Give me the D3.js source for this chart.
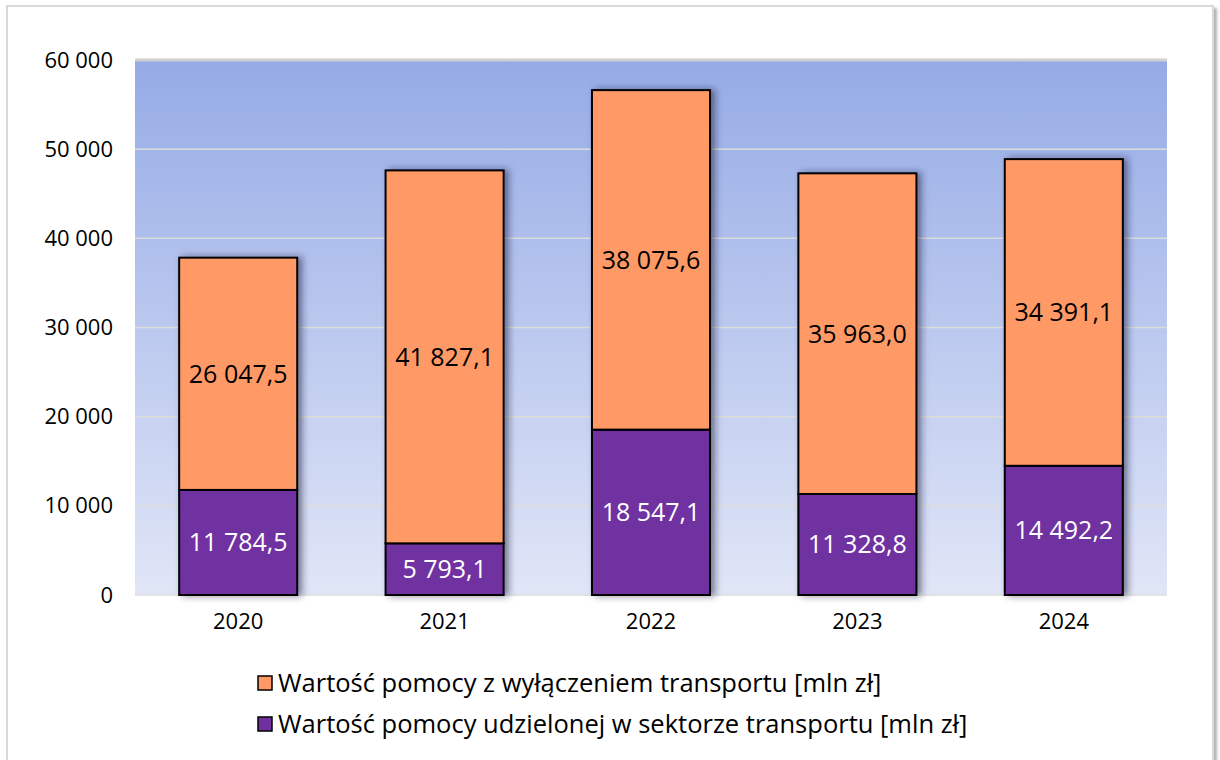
<!DOCTYPE html>
<html><head><meta charset="utf-8">
<script src="https://cdn.jsdelivr.net/npm/d3@7"></script>
<style>
html,body{margin:0;padding:0;background:#fff;}
svg{display:block;font-family:"Open Sans",sans-serif;}
</style></head>
<body><svg id="c" width="1220" height="760"></svg>
<script>
const years = ["2020","2021","2022","2023","2024"];
const transport = [11784.5, 5793.1, 18547.1, 11328.8, 14492.2];
const excluding = [26047.5, 41827.1, 38075.6, 35963.0, 34391.1];
const yTicks = [0,10000,20000,30000,40000,50000,60000];
const seriesNames = ["Wartość pomocy z wyłączeniem transportu [mln zł]","Wartość pomocy udzielonej w sektorze transportu [mln zł]"];
const seriesColors = ["#FF9966","#7030A0"];
const labelColors = ["#000","#fff"];

const loc = d3.formatLocale({decimal:",", thousands:" ", grouping:[3], currency:["",""]});
const fmt1 = loc.format(",.1f"), fmt0 = loc.format(",.0f");

const svg = d3.select("#c");
const defs = svg.append("defs");
const g1 = defs.append("linearGradient").attr("id","bg").attr("x1",0).attr("y1",0).attr("x2",0).attr("y2",1);
g1.append("stop").attr("offset","0%").attr("stop-color","#95ABE6");
g1.append("stop").attr("offset","100%").attr("stop-color","#E1E6F7");
const f = defs.append("filter").attr("id","sh").attr("x","-20%").attr("y","-20%").attr("width","140%").attr("height","140%");
f.append("feDropShadow").attr("dx",4).attr("dy",0).attr("stdDeviation",3.5).attr("flood-color","#1a2040").attr("flood-opacity",0.55);
const f2 = defs.append("filter").attr("id","fsh").attr("x","-5%").attr("y","-5%").attr("width","110%").attr("height","110%");
f2.append("feDropShadow").attr("dx",3).attr("dy",3).attr("stdDeviation",1.5).attr("flood-color","#000").attr("flood-opacity",0.3);

// outer frame
svg.append("rect").attr("x",7).attr("y",6).attr("width",1206).attr("height",770)
  .attr("fill","#fff").attr("stroke","#D9D9D9").attr("stroke-width",2).attr("filter","url(#fsh)");

const L=135, R=1167, T=60, B=595;
const x = d3.scaleBand().domain(years).range([L,R]).paddingInner(0.428).paddingOuter(0.214);
const y = d3.scaleLinear().domain([0,60000]).range([B,T]);

svg.append("rect").attr("x",L).attr("y",T).attr("width",R-L).attr("height",B-T).attr("fill","url(#bg)");
svg.append("g").selectAll("line").data(yTicks).join("line")
  .attr("x1",L).attr("x2",R).attr("y1",d=>y(d)).attr("y2",d=>y(d))
  .attr("stroke",d=> d===60000 ? "#D0D0D0" : "#DCDCDC").attr("stroke-width",d=>d===60000?3:1.5);

// y axis
const ya = svg.append("g").attr("transform",`translate(${L},0)`)
  .call(d3.axisLeft(y).tickValues(yTicks).tickFormat(fmt0).tickSize(0).tickPadding(22));
ya.select(".domain").remove();
ya.selectAll("text").attr("font-family","Open Sans").attr("font-size",22).attr("fill","#000");

// x axis
const xa = svg.append("g").attr("transform",`translate(0,${B})`)
  .call(d3.axisBottom(x).tickSize(0).tickPadding(18));
xa.select(".domain").remove();
xa.selectAll("text").attr("font-family","Open Sans").attr("font-size",22).attr("fill","#000");

const stackData = years.map((yr,i)=>({year:yr, transport:transport[i], excluding:excluding[i]}));
const stack = d3.stack().keys(["transport","excluding"])(stackData);
const keyIdx = {transport:1, excluding:0};

const bars = svg.append("g");
stackData.forEach((d,i)=>{
  const bg = bars.append("g").attr("filter","url(#sh)");
  stack.forEach(s=>{
    const seg = s[i];
    bg.append("rect").attr("x",x(d.year)).attr("width",x.bandwidth())
      .attr("y",y(seg[1])).attr("height",y(seg[0])-y(seg[1]))
      .attr("fill",seriesColors[keyIdx[s.key]]).attr("stroke","#000").attr("stroke-width",2);
  });
});
stack.forEach(s=>{
  svg.append("g").selectAll("text").data(s).join("text")
    .attr("x",(d,i)=>x(years[i])+x.bandwidth()/2)
    .attr("y",d=>y((d[0]+d[1])/2))
    .attr("dy","0.36em").attr("text-anchor","middle")
    .attr("font-size",25).attr("fill",labelColors[keyIdx[s.key]])
    .text(d=>fmt1(d[1]-d[0]));
});

// legend
const lg = svg.append("g");
seriesNames.forEach((n,i)=>{
  const yy = 683 + i*41;
  lg.append("rect").attr("x",258).attr("y",yy-7).attr("width",14).attr("height",14)
    .attr("fill",seriesColors[i]).attr("stroke","#000").attr("stroke-width",1.5);
  lg.append("text").attr("x",278).attr("y",yy).attr("dy","0.36em")
    .attr("font-size",25.5).attr("fill","#000").text(n);
});
</script></body></html>
